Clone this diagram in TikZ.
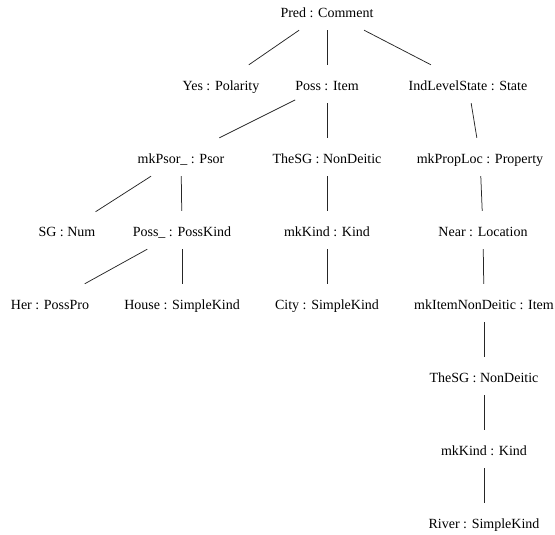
\documentclass[tikz,border=0pt]{standalone}
\usepackage{fontspec}
\setmainfont{Liberation Serif}
\begin{document}
\begin{tikzpicture}[x=1pt,y=-1pt,
  tn/.style={anchor=base, inner sep=0pt, text height=25.5pt, text depth=12.5pt, font=\fontsize{14}{16}\selectfont},
  edge/.style={draw=black!85, line width=0.75pt}]
\useasboundingbox (0,0) rectangle (555,535);
% level 0
\node[tn] (pred) at (327,17.5) {Pred : Comment};
% level 1
\node[tn] (yes) at (221,90.5) {Yes : Polarity};
\node[tn] (poss) at (327,90.5) {Poss : Item};
\node[tn] (ind) at (468,90.5) {IndLevelState : State};
% level 2
\node[tn] (psor) at (181,163.5) {mkPsor\_ : Psor};
\node[tn] (thesga) at (327,163.5) {TheSG : NonDeitic};
\node[tn] (proploc) at (480,163.5) {mkPropLoc : Property};
% level 3
\node[tn] (sg) at (67,236.5) {SG : Num};
\node[tn] (posskind) at (182,236.5) {Poss\_ : PossKind};
\node[tn] (kinda) at (327,236.5) {mkKind : Kind};
\node[tn] (near) at (483,236.5) {Near : Location};
% level 4
\node[tn] (her) at (50,309.5) {Her : PossPro};
\node[tn] (house) at (182,309.5) {House : SimpleKind};
\node[tn] (city) at (327,309.5) {City : SimpleKind};
\node[tn] (itemnd) at (484,309.5) {mkItemNonDeitic : Item};
% level 5-7
\node[tn] (thesgb) at (484,382.5) {TheSG : NonDeitic};
\node[tn] (kindb) at (484,455.5) {mkKind : Kind};
\node[tn] (river) at (484,528.5) {River : SimpleKind};
% edges
\path[edge] (pred) -- (yes);
\path[edge] (pred) -- (poss);
\path[edge] (pred) -- (ind);
\path[edge] (poss) -- (psor);
\path[edge] (poss) -- (thesga);
\path[edge] (ind) -- (proploc);
\path[edge] (psor) -- (sg);
\path[edge] (psor) -- (posskind);
\path[edge] (thesga) -- (kinda);
\path[edge] (proploc) -- (near);
\path[edge] (posskind) -- (her);
\path[edge] (posskind) -- (house);
\path[edge] (kinda) -- (city);
\path[edge] (near) -- (itemnd);
\path[edge] (itemnd) -- (thesgb);
\path[edge] (thesgb) -- (kindb);
\path[edge] (kindb) -- (river);
\end{tikzpicture}
\end{document}
